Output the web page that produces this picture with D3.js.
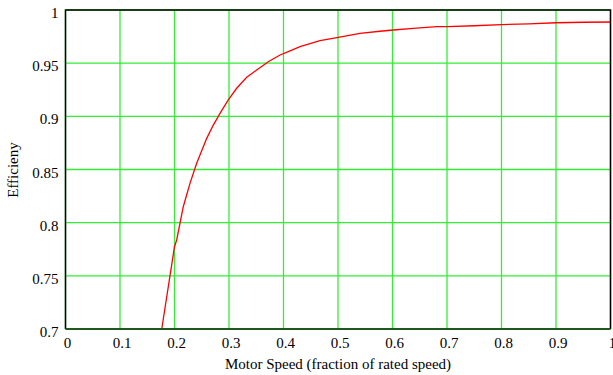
<!DOCTYPE html>
<html>
<head>
<meta charset="utf-8">
<script src="https://cdn.jsdelivr.net/npm/d3@7"></script>
<style>
  body { margin: 0; background: #fff; }
  text { font-family: "Liberation Serif", "Times New Roman", serif; font-size: 15px; fill: #000; }
</style>
</head>
<body>
<div id="chart"></div>
<script>
// Chart size
var width  = 613;
var height = 375;
var margin = { top: 10, right: 2.5, bottom: 46, left: 65.5 };

// Motor speed (fraction of rated) vs efficiency
var speed = [0.1766, 0.2, 0.204, 0.2161, 0.2284, 0.2407, 0.2468, 0.2591, 0.2712,
             0.2835, 0.2987, 0.3141, 0.3325, 0.3508, 0.3721, 0.3936, 0.4088,
             0.4303, 0.467, 0.5006, 0.5404, 0.577, 0.6015, 0.638, 0.681, 0.7,
             0.75, 0.8, 0.85, 0.9, 0.95, 1.0];
var efficiency = [0.7, 0.7774, 0.7837, 0.815, 0.837, 0.8558, 0.8636, 0.8793, 0.8918,
                  0.9028, 0.9154, 0.9264, 0.9367, 0.9436, 0.9514, 0.9577, 0.9608,
                  0.9655, 0.9711, 0.9743, 0.9781, 0.98, 0.9812, 0.9828, 0.9843, 0.9843,
                  0.9852, 0.9862, 0.987, 0.988, 0.9885, 0.9887];

var xTicks = [0, 0.1, 0.2, 0.3, 0.4, 0.5, 0.6, 0.7, 0.8, 0.9, 1];
var yTicks = [0.7, 0.75, 0.8, 0.85, 0.9, 0.95, 1];

var xLabel = "Motor Speed (fraction of rated speed)";
var yLabel = "Efficieny";

var svg = d3.select("#chart").append("svg")
    .attr("width", width)
    .attr("height", height);

var x = d3.scaleLinear().domain([0, 1]).range([margin.left, width - margin.right]);
var y = d3.scaleLinear().domain([0.7, 1]).range([height - margin.bottom, margin.top]);

// Grid
svg.append("g")
    .selectAll("line")
    .data(xTicks)
    .enter()
    .append("line")
    .attr("x1", d => x(d)).attr("x2", d => x(d))
    .attr("y1", y(1)).attr("y2", y(0.7))
    .attr("stroke", "#33ee33")
    .attr("stroke-width", 1.3);

svg.append("g")
    .selectAll("line")
    .data(yTicks)
    .enter()
    .append("line")
    .attr("x1", x(0)).attr("x2", x(1))
    .attr("y1", d => y(d)).attr("y2", d => y(d))
    .attr("stroke", "#33ee33")
    .attr("stroke-width", 1.3);

// Curve
var line = d3.line()
    .x((d, i) => x(speed[i]))
    .y(d => y(d));

svg.append("path")
    .datum(efficiency)
    .attr("d", line)
    .attr("fill", "none")
    .attr("stroke", "#ff0000")
    .attr("stroke-width", 1.3);

// Frame
svg.append("path")
    .attr("d", "M" + x(0) + "," + y(0.7) + "V" + y(1) + "H" + x(1) + "V" + y(0.7))
    .attr("fill", "none")
    .attr("stroke", "#000")
    .attr("stroke-width", 1.5);

svg.append("line")
    .attr("x1", x(0)).attr("x2", x(1))
    .attr("y1", y(0.7)).attr("y2", y(0.7))
    .attr("stroke", "#1e5a1e")
    .attr("stroke-width", 2);

// Tick labels
svg.append("g")
    .selectAll("text")
    .data(xTicks)
    .enter()
    .append("text")
    .attr("x", d => x(d) + 2)
    .attr("y", y(0.7) + 19)
    .attr("text-anchor", "middle")
    .text(d => d3.format("")(d));

svg.append("g")
    .selectAll("text")
    .data(yTicks)
    .enter()
    .append("text")
    .attr("x", x(0) - 7)
    .attr("y", d => y(d) + 8)
    .attr("text-anchor", "end")
    .text(d => d3.format("")(d));

// Axis titles
svg.append("text")
    .attr("x", 338)
    .attr("y", 369)
    .attr("text-anchor", "middle")
    .text(xLabel);

svg.append("text")
    .attr("transform", "translate(18,170)rotate(-90)")
    .attr("text-anchor", "middle")
    .text(yLabel);
</script>
</body>
</html>
